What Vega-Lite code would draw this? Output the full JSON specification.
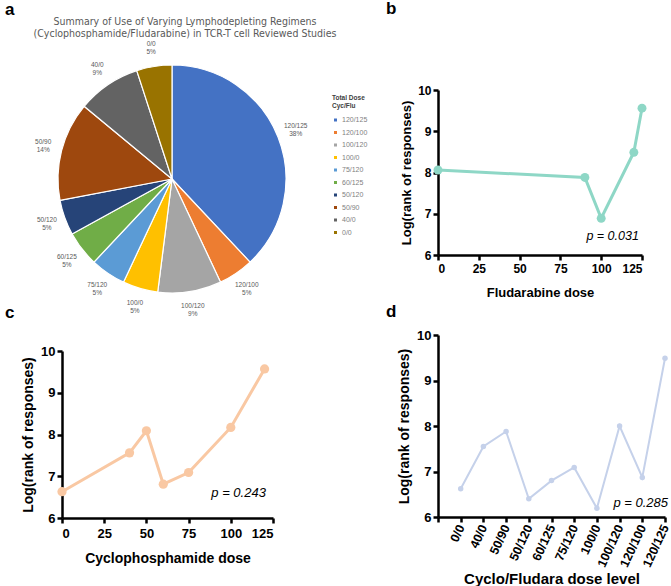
{
  "$schema": "https://vega.github.io/schema/vega-lite/v6.json",
  "background": "white",
  "padding": {"left": 5, "top": 0, "right": 0, "bottom": 0},
  "autosize": {"type": "pad"},
  "title": {"text": "a", "anchor": "start", "frame": "bounds", "offset": -19, "fontSize": 17, "font": "Liberation Sans", "fontWeight": "bold", "color": "black"},
  "datasets": {
    "pie": [
      {"dose": "120/125", "share": 0.38, "rank": 1},
      {"dose": "120/100", "share": 0.05, "rank": 2},
      {"dose": "100/120", "share": 0.09, "rank": 3},
      {"dose": "100/0", "share": 0.05, "rank": 4},
      {"dose": "75/120", "share": 0.05, "rank": 5},
      {"dose": "60/125", "share": 0.05, "rank": 6},
      {"dose": "50/120", "share": 0.05, "rank": 7},
      {"dose": "50/90", "share": 0.14, "rank": 8},
      {"dose": "40/0", "share": 0.09, "rank": 9},
      {"dose": "0/0", "share": 0.05, "rank": 10}
    ],
    "flu": [
      {"flu": 0, "logRank": 8.06},
      {"flu": 90, "logRank": 7.88},
      {"flu": 100, "logRank": 6.89},
      {"flu": 120, "logRank": 8.49},
      {"flu": 125, "logRank": 9.56}
    ],
    "cyc": [
      {"cyc": 0, "logRank": 6.63},
      {"cyc": 40, "logRank": 7.56},
      {"cyc": 50, "logRank": 8.09},
      {"cyc": 60, "logRank": 6.81},
      {"cyc": 75, "logRank": 7.09},
      {"cyc": 100, "logRank": 8.17},
      {"cyc": 120, "logRank": 9.57}
    ],
    "combo": [
      {"level": "0/0", "logRank": 6.62},
      {"level": "40/0", "logRank": 7.55},
      {"level": "50/90", "logRank": 7.88},
      {"level": "50/120", "logRank": 6.4},
      {"level": "60/125", "logRank": 6.8},
      {"level": "75/120", "logRank": 7.09},
      {"level": "100/0", "logRank": 6.19},
      {"level": "100/120", "logRank": 8.0},
      {"level": "120/100", "logRank": 6.87},
      {"level": "120/125", "logRank": 9.49}
    ],
    "pb": [{"label": "p = 0.031", "x": 107, "y": 6.46}],
    "pc": [{"label": "p = 0.243", "x": 104.6, "y": 6.6}],
    "pd": [{"label": "p = 0.285", "x": "120/125", "y": 6.31}]
  },
  "columns": 2,
  "spacing": {"row": 20, "column": 156},
  "bounds": "flush",
  "align": "each",
  "config": {
    "view": {"stroke": null},
    "axis": {
      "domainColor": "black", "domainWidth": 2.5, "tickColor": "black", "tickWidth": 2.5, "tickSize": 5,
      "labelFont": "Liberation Sans", "labelFontWeight": "bold", "labelColor": "black", "labelFontSize": 12,
      "titleFont": "Liberation Sans", "titleFontWeight": "bold", "titleColor": "black", "titleFontSize": 13,
      "grid": false, "labelPadding": 2
    }
  },
  "concat": [
    {
      "width": 220,
      "height": 272,
      "title": {
        "text": ["Summary of Use of Varying Lymphodepleting Regimens", "(Cyclophosphamide/Fludarabine) in TCR-T cell Reviewed Studies"],
        "anchor": "middle", "frame": "group", "dx": 13, "offset": 1, "fontSize": 10.5, "font": "Liberation Sans Narrow, DejaVu Sans Condensed, sans-serif",
        "fontWeight": "normal", "color": "#595959", "lineHeight": 12.5
      },
      "data": {"name": "pie"},
      "encoding": {
        "theta": {"field": "share", "type": "quantitative", "stack": true},
        "order": {"field": "rank", "type": "quantitative", "sort": "ascending"}
      },
      "layer": [
        {
          "mark": {"type": "arc", "outerRadius": 114, "stroke": "white", "strokeWidth": 1.2},
          "encoding": {
            "color": {
              "field": "dose", "type": "nominal", "sort": null,
              "scale": {"range": ["#4472C4", "#ED7D31", "#A5A5A5", "#FFC000", "#5B9BD5", "#70AD47", "#264478", "#9E480E", "#636363", "#997300"]},
              "legend": {
                "orient": "none", "legendX": 270, "legendY": 52,
                "title": ["Total Dose", "Cyc/Flu"], "titleFontSize": 6.5, "titleFont": "Liberation Sans Narrow, sans-serif",
                "titleColor": "#404040", "titleFontWeight": "bold", "titleLineHeight": 8, "titlePadding": 7,
                "labelFontSize": 7, "labelFont": "Liberation Sans Narrow, sans-serif", "labelColor": "#7f7f7f",
                "symbolType": "square", "symbolSize": 9, "symbolStrokeWidth": 0, "rowPadding": 4.5, "labelOffset": 3
              }
            }
          }
        },
        {
          "mark": {"type": "text", "radius": 133, "dy": -4, "fontSize": 6.5, "font": "Liberation Sans Narrow, sans-serif", "color": "#595959"},
          "encoding": {"text": {"field": "dose", "type": "nominal"}}
        },
        {
          "mark": {"type": "text", "radius": 133, "dy": 4, "fontSize": 6.5, "font": "Liberation Sans Narrow, sans-serif", "color": "#595959"},
          "encoding": {"text": {"field": "share", "type": "quantitative", "format": ".0%"}}
        }
      ]
    },
    {
      "width": 204,
      "height": 212,
      "title": {"text": "b", "anchor": "start", "frame": "group", "dx": -52, "offset": 25, "fontSize": 17, "font": "Liberation Sans", "fontWeight": "bold", "color": "black"},
      "layer": [
        {
          "data": {"name": "flu"},
          "mark": {"type": "line", "color": "#8ed7c6", "strokeWidth": 3},
          "encoding": {
            "x": {"field": "flu", "type": "quantitative", "scale": {"domain": [0, 125], "nice": false}, "axis": {"values": [0, 25, 50, 75, 100, 125], "format": "d", "title": "Fludarabine dose", "titlePadding": 12, "labelPadding": 3}},
            "y": {"field": "logRank", "type": "quantitative", "scale": {"domain": [6, 10], "nice": false, "range": [212, 47]}, "axis": {"values": [6, 7, 8, 9, 10], "format": "d", "title": "Log(rank of responses)", "titlePadding": 4}}
          }
        },
        {
          "data": {"name": "flu"},
          "mark": {"type": "point", "filled": true, "size": 80, "opacity": 1, "color": "#8ed7c6"},
          "encoding": {
            "x": {"field": "flu", "type": "quantitative"},
            "y": {"field": "logRank", "type": "quantitative"}
          }
        },
        {
          "data": {"name": "pb"},
          "mark": {"type": "text", "fontStyle": "italic", "fontSize": 12.5, "font": "Liberation Sans", "align": "center", "color": "black"},
          "encoding": {
            "x": {"field": "x", "type": "quantitative"},
            "y": {"field": "y", "type": "quantitative"},
            "text": {"field": "label", "type": "nominal"}
          }
        }
      ]
    },
    {
      "width": 211,
      "height": 183,
      "title": {"text": "c", "anchor": "start", "frame": "group", "dx": -57, "offset": 13, "fontSize": 17, "font": "Liberation Sans", "fontWeight": "bold", "color": "black"},
      "layer": [
        {
          "data": {"name": "cyc"},
          "mark": {"type": "line", "color": "#f9c8a3", "strokeWidth": 3},
          "encoding": {
            "x": {"field": "cyc", "type": "quantitative", "scale": {"domain": [0, 125], "nice": false}, "axis": {"values": [0, 25, 50, 75, 100, 125], "format": "d", "title": "Cyclophosphamide dose", "titlePadding": 11, "labelFontSize": 13, "titleFontSize": 14, "labelPadding": 4}},
            "y": {"field": "logRank", "type": "quantitative", "scale": {"domain": [6, 10], "nice": false, "range": [183, 16]}, "axis": {"values": [6, 7, 8, 9, 10], "format": "d", "title": "Log(rank of responses)", "titlePadding": 5, "labelFontSize": 13, "titleFontSize": 14}}
          }
        },
        {
          "data": {"name": "cyc"},
          "mark": {"type": "point", "filled": true, "size": 85, "opacity": 1, "color": "#f9c8a3"},
          "encoding": {
            "x": {"field": "cyc", "type": "quantitative"},
            "y": {"field": "logRank", "type": "quantitative"}
          }
        },
        {
          "data": {"name": "pc"},
          "mark": {"type": "text", "fontStyle": "italic", "fontSize": 13, "font": "Liberation Sans", "align": "center", "color": "black"},
          "encoding": {
            "x": {"field": "x", "type": "quantitative"},
            "y": {"field": "y", "type": "quantitative"},
            "text": {"field": "label", "type": "nominal"}
          }
        }
      ]
    },
    {
      "width": 227,
      "height": 182,
      "title": {"text": "d", "anchor": "start", "frame": "group", "dx": -52, "offset": 8, "fontSize": 17, "font": "Liberation Sans", "fontWeight": "bold", "color": "black"},
      "layer": [
        {
          "data": {"name": "combo"},
          "mark": {"type": "line", "color": "#c5d1ea", "strokeWidth": 2},
          "encoding": {
            "x": {
              "field": "level", "type": "ordinal",
              "scale": {"type": "point", "padding": 0, "domain": ["", "0/0", "40/0", "50/90", "50/120", "60/125", "75/120", "100/0", "100/120", "120/100", "120/125"]},
              "axis": {"title": "Cyclo/Fludara dose level", "labelAngle": -65, "labelFontSize": 12.5, "titleFontSize": 15, "labelPadding": 3, "titlePadding": 3}
            },
            "y": {"field": "logRank", "type": "quantitative", "scale": {"domain": [6, 10], "nice": false}, "axis": {"values": [6, 7, 8, 9, 10], "format": "d", "title": "Log(rank of responses)", "titlePadding": 5, "labelFontSize": 13, "titleFontSize": 14}}
          }
        },
        {
          "data": {"name": "combo"},
          "mark": {"type": "point", "filled": true, "size": 30, "opacity": 1, "color": "#c5d1ea"},
          "encoding": {
            "x": {"field": "level", "type": "ordinal"},
            "y": {"field": "logRank", "type": "quantitative"}
          }
        },
        {
          "data": {"name": "pd"},
          "mark": {"type": "text", "fontStyle": "italic", "fontSize": 13, "font": "Liberation Sans", "align": "right", "dx": 3, "color": "black"},
          "encoding": {
            "x": {"field": "x", "type": "ordinal"},
            "y": {"field": "y", "type": "quantitative"},
            "text": {"field": "label", "type": "nominal"}
          }
        }
      ]
    }
  ]
}
